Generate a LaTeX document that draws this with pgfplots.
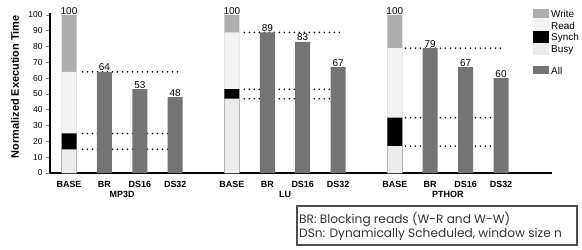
\documentclass[border=0pt]{standalone}
\usepackage{pgfplots}
\pgfplotsset{compat=1.18}
\usepackage{fontspec}
\setmainfont{Liberation Sans}
\newfontfamily\boxfont{Poppins}
\definecolor{cwrite}{HTML}{ADADAD}
\definecolor{cread}{HTML}{F3F3F3}
\definecolor{cbusy}{HTML}{ECECEC}
\definecolor{call}{HTML}{747474}
\begin{document}
\begin{tikzpicture}
\path[use as bounding box] (0,0) rectangle (582bp,250bp);
\begin{axis}[
  at={(50bp,77bp)}, anchor=south west,
  scale only axis, width=502bp, height=159.6bp,
  xmin=-0.537, xmax=13.64, ymin=0, ymax=101,
  clip=false,
  axis x line*=bottom, axis y line*=left,
  axis line style={line width=2.6bp},
  ytick={0,10,...,100},
  y tick label style={font=\fontsize{8.5}{9}\selectfont},
  /pgf/number format/assume math mode=true,
  tick align=outside,
  ytick style={line width=0.8bp},
  major tick length=4bp,
  xtick={0,1,2,3,4.6,5.6,6.6,7.6,9.2,10.2,11.2,12.2},
  xticklabels={BASE,BR,DS16,DS32,BASE,BR,DS16,DS32,BASE,BR,DS16,DS32},
  xtick style={draw=none},
  x tick label style={font=\bfseries\fontsize{9}{10}\selectfont, yshift=-1bp},
  ylabel={Normalized Execution Time},
  every axis y label/.style={at={(axis description cs:-0.07,0.54)}, rotate=90, anchor=center, font=\bfseries\fontsize{11}{12}\selectfont},
  bars/.style={ybar, bar width=15bp, bar shift=0pt, draw=none},
  dots/.style={line width=1.8bp, black, line cap=round, dash pattern=on 0pt off 5bp},
  vals/.style={nodes near coords, nodes near coords style={font=\fontsize{10}{11}\selectfont, anchor=south, inner sep=0.6bp}},
]
% dotted reference lines
\addplot[dots] coordinates {(0.38,64) (3.1,64)};
\addplot[dots] coordinates {(0.38,25) (3.1,25)};
\addplot[dots] coordinates {(0.38,15) (3.1,15)};
\addplot[dots] coordinates {(4.95,89) (7.65,89)};
\addplot[dots] coordinates {(4.95,53) (7.65,53)};
\addplot[dots] coordinates {(4.95,47) (7.65,47)};
\addplot[dots] coordinates {(9.5,79) (12.25,79)};
\addplot[dots] coordinates {(9.5,35) (12.25,35)};
\addplot[dots] coordinates {(9.5,17) (12.25,17)};
% BASE stacks (cumulative tops): Write, Read, Synch, Busy
\addplot[bars, fill=cwrite, vals] coordinates {(0,100) (4.6,100) (9.2,100)};
\addplot[bars, fill=cread] coordinates {(0,64) (4.6,89) (9.2,79)};
\addplot[bars, fill=black] coordinates {(0,25) (4.6,53) (9.2,35)};
\addplot[bars, fill=cbusy] coordinates {(0,15) (4.6,47) (9.2,17)};
% All
\addplot[bars, fill=call, vals] coordinates {(1,64) (2,53) (3,48) (5.6,89) (6.6,83) (7.6,67) (10.2,79) (11.2,67) (12.2,60)};
% group labels
\node[font=\bfseries\fontsize{9}{10}\selectfont] at (axis cs:1.5,0) [yshift=-21bp] {MP3D};
\node[font=\bfseries\fontsize{9}{10}\selectfont] at (axis cs:6.1,0) [yshift=-21bp] {LU};
\node[font=\bfseries\fontsize{9}{10}\selectfont] at (axis cs:10.7,0) [yshift=-21bp] {PTHOR};
\end{axis}
% legend
\fill[cwrite] (533bp,232bp) rectangle (549bp,241bp);
\fill[cread] (533bp,219bp) rectangle (549bp,232bp);
\fill[black] (533bp,207bp) rectangle (549bp,219bp);
\fill[cbusy] (533bp,195bp) rectangle (549bp,207bp);
\fill[call] (533bp,176bp) rectangle (549bp,184bp);
\begin{scope}[every node/.style={anchor=west, inner sep=0pt, font=\fontsize{10}{11}\selectfont}]
\node at (551bp,236bp) {Write};
\node at (551bp,224bp) {Read};
\node at (551bp,212bp) {Synch};
\node at (551bp,200bp) {Busy};
\node at (551bp,179bp) {All};
\end{scope}
% note box
\draw[line width=1.2bp, black!70] (297bp,5bp) rectangle (577bp,44bp);
\node[anchor=west, inner sep=0pt, font=\boxfont\fontsize{12.2}{13}\selectfont, text=black!80] at (299bp,31bp) {BR: Blocking reads (W-R and W-W)};
\node[anchor=west, inner sep=0pt, font=\boxfont\fontsize{12.2}{13}\selectfont, text=black!80] at (299bp,16bp) {DSn: Dynamically Scheduled, window size n};
\end{tikzpicture}
\end{document}
